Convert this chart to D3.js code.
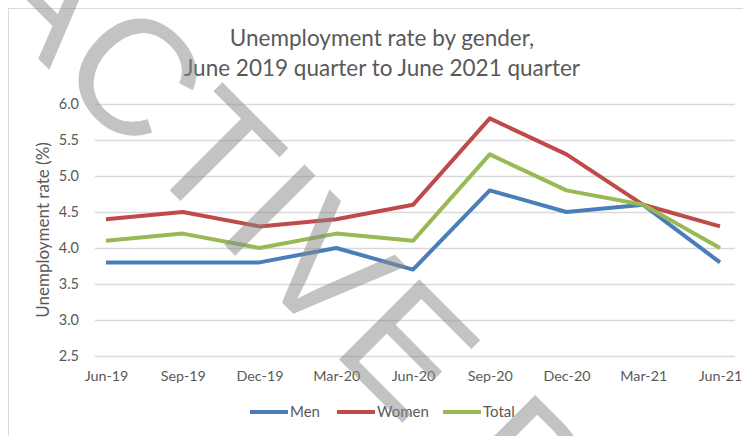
<!DOCTYPE html>
<html>
<head>
<meta charset="utf-8">
<script src="https://cdn.jsdelivr.net/npm/d3@7"></script>
<style>
  html, body { margin: 0; padding: 0; background: #fff; }
  svg { display: block; }
</style>
</head>
<body>
<svg id="chart" width="743" height="436"></svg>
<script>
// ---- data ----
const categories = ["Jun-19","Sep-19","Dec-19","Mar-20","Jun-20","Sep-20","Dec-20","Mar-21","Jun-21"];
const men   = [3.8, 3.8, 3.8, 4.0, 3.7, 4.8, 4.5, 4.6, 3.8];
const women = [4.4, 4.5, 4.3, 4.4, 4.6, 5.8, 5.3, 4.6, 4.3];
const total = [4.1, 4.2, 4.0, 4.2, 4.1, 5.3, 4.8, 4.6, 4.0];
const yTicks = [2.5, 3.0, 3.5, 4.0, 4.5, 5.0, 5.5, 6.0];
const seriesNames = ["Men", "Women", "Total"];
const titleLines = ["Unemployment rate by gender,", "June 2019 quarter to June 2021 quarter"];
const yTitle = "Unemployment rate (%)";
const watermark = "ACTIVE D";

const colors = { Men: "#4a7ebb", Women: "#be4b48", Total: "#98b954" };
const seriesData = { Men: men, Women: women, Total: total };

const svg = d3.select("#chart");
const font = "Lato, 'Open Sans', sans-serif";
const textCol = "#595959";

svg.append("rect").attr("width", 743).attr("height", 436).attr("fill", "#fff");
// chart frame
svg.append("rect").attr("x", 8.5).attr("y", 8.5).attr("width", 800).attr("height", 600)
  .attr("fill", "none").attr("stroke", "#d9d9d9").attr("stroke-width", 1);

// title
svg.append("g").selectAll("text").data(titleLines).join("text")
  .attr("x", 382).attr("y", (d, i) => 46 + i * 30)
  .attr("text-anchor", "middle")
  .attr("font-family", font).attr("font-size", 22.5).attr("fill", textCol)
  .text(d => d);

const gridLeft = 95, gridRight = 735;
const x = d3.scalePoint().domain(categories).range([106, 720]);
const y = d3.scaleLinear().domain([2.5, 6.0]).range([356, 104]);

// y axis with gridlines
const yAxis = svg.append("g").attr("transform", `translate(${gridLeft},0)`)
  .call(d3.axisLeft(y).tickValues(yTicks).tickFormat(d3.format(".1f"))
        .tickSize(-(gridRight - gridLeft)).tickPadding(16));
yAxis.select(".domain").remove();
yAxis.selectAll(".tick line").attr("stroke", "#d9d9d9").attr("stroke-width", 1.3);
yAxis.selectAll(".tick text").attr("font-family", font).attr("font-size", 14.5).attr("fill", textCol);

// x axis
const xAxis = svg.append("g").attr("transform", `translate(0,356)`)
  .call(d3.axisBottom(x).tickSize(0).tickPadding(15));
xAxis.select(".domain").remove();
xAxis.selectAll(".tick text").attr("font-family", font).attr("font-size", 14.3).attr("fill", textCol);

// y title
svg.append("text")
  .attr("transform", "translate(49,230) rotate(-90)")
  .attr("text-anchor", "middle")
  .attr("font-family", font).attr("font-size", 17).attr("fill", textCol)
  .text(yTitle);

// lines
const line = d3.line().x((d, i) => x(categories[i])).y(d => y(d));
seriesNames.forEach(name => {
  svg.append("path").datum(seriesData[name])
    .attr("fill", "none").attr("stroke", colors[name]).attr("stroke-width", 4)
    .attr("stroke-linejoin", "round").attr("stroke-linecap", "butt")
    .attr("d", line);
});

// legend
const legendPos = { Men: 250, Women: 337, Total: 443 };
const lg = svg.append("g");
seriesNames.forEach(name => {
  const lx = legendPos[name];
  lg.append("line").attr("x1", lx).attr("x2", lx + 38).attr("y1", 412).attr("y2", 412)
    .attr("stroke", colors[name]).attr("stroke-width", 4);
  lg.append("text").attr("x", lx + 40).attr("y", 417)
    .attr("font-family", font).attr("font-size", 15).attr("fill", textCol).text(name);
});

// watermark
svg.append("text")
  .attr("transform", "translate(-28.3,-7.8) rotate(45)")
  .attr("x", 0).attr("y", 0)
  .attr("font-family", "'Liberation Sans', Arial, sans-serif")
  .attr("font-size", 165).attr("letter-spacing", 4)
  .attr("fill", "#888").attr("fill-opacity", 0.5)
  .attr("xml:space", "preserve")
  .style("white-space", "pre")
  .text(watermark);
</script>
</body>
</html>
